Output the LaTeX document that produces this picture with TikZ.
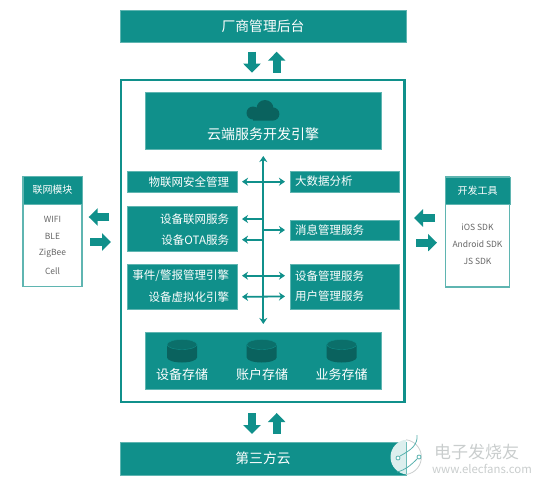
\documentclass[tikz,border=0pt]{standalone}
\usepackage{fontspec}
\setmainfont{Noto Sans CJK SC}
\usepackage{tikz}
\usetikzlibrary{positioning,arrows.meta}
\definecolor{cloudteal}{HTML}{10908B}
\definecolor{edgeteal}{HTML}{5FB5B1}
\definecolor{darkteal}{HTML}{0A625E}
\definecolor{topteal}{HTML}{0B6F6A}
\definecolor{listgray}{HTML}{666666}
\definecolor{markgray}{HTML}{C9CDCD}
\definecolor{markpale}{HTML}{DCEFEE}
\begin{document}
\begin{tikzpicture}[
    x=1pt, y=-1pt,
    every node/.style={inner sep=0pt, outer sep=0pt, text=white},
    block/.style={draw=edgeteal, line width=0.5pt, fill=cloudteal},
    panel/.style={draw=edgeteal, line width=1.2pt, fill=white},
    cell/.style={font=\fontsize{11.5}{13}\selectfont},
    rowl/.style={cell, anchor=east},
    rowr/.style={cell, anchor=west},
    item/.style={font=\fontsize{8.5}{10}\selectfont, text=listgray},
    store/.style={font=\fontsize{13}{15}\selectfont},
    drum/.pic={
        \fill[darkteal] (-15,-6.5) -- (-15,6.5) arc (180:360:15pt and 5pt) -- (15,-6.5) -- cycle;
        \fill[topteal, draw=cloudteal, line width=0.4pt] (0,-6.5) ellipse (15pt and 5pt);
    },
    bigarrow/.style={draw=cloudteal, line width=8pt, -{Triangle[width=17pt,length=9pt]}},
    busarrow/.style={draw=cloudteal, line width=1.8pt, {Stealth[length=6pt,width=8pt]}-{Stealth[length=6pt,width=8pt]}},
    busout/.style={draw=cloudteal, line width=1.8pt, -{Stealth[length=6pt,width=8pt]}}
]
\useasboundingbox (0,0) rectangle (539,485);

% top and bottom bars
\node[block, minimum width=286pt, minimum height=32.5pt, font=\fontsize{13.8}{15}\selectfont] (vendor) at (263,26) {厂商管理后台};
\node[block, minimum width=286pt, minimum height=33pt, font=\fontsize{13.8}{15}\selectfont] (third) at (263,458.5) {第三方云};

% main frame
\node[draw=cloudteal, line width=2.5pt, fill=white, minimum width=283.5pt, minimum height=322pt] (frame) at (262.7,241) {};

% engine and storage
\node[block, minimum width=236pt, minimum height=57pt] (engine) at (263,120.5) {};
\node[font=\fontsize{14}{16}\selectfont] (enginetxt) at (263,134.5) {云端服务开发引擎};
\fill[darkteal] (253,113) circle (6.5pt) (265,108.5) circle (8.5pt) (272.8,114) circle (6.6pt) (253,112) rectangle (273,120.6);

\node[block, minimum width=236pt, minimum height=57.5pt] (storage) at (263,360.5) {};
\pic (drumdev) at (182,351) {drum};
\pic (drumacc) at (261.7,351) {drum};
\pic (drumbiz) at (341.7,351) {drum};
\node[store] (devstore) at (182,374.5) {设备存储};
\node[store] (accstore) at (262,374.5) {账户存储};
\node[store] (bizstore) at (341.7,374.5) {业务存储};

% left column
\node[block, minimum width=110pt, minimum height=20.5pt] (security) at (182.5,181.7) {};
\node[rowl] (securitytxt) at (229,181.7) {物联网安全管理};
\node[block, minimum width=110pt, minimum height=44.5pt] (devbox) at (182.5,228.7) {};
\node[rowl] (devnet) at (229,219) {设备联网服务};
\node[rowl, below=10pt of devnet.south east, anchor=north east] (devota) {设备OTA服务};
\node[block, minimum width=110pt, minimum height=45pt] (eventbox) at (182.5,286.5) {};
\node[rowl] (event) at (229,275.7) {事件/警报管理引擎};
\node[rowl, below=10pt of event.south east, anchor=north east] (virtual) {设备虚拟化引擎};

% right column
\node[block, minimum width=109pt, minimum height=21.5pt] (bigdata) at (344.5,181.5) {};
\node[rowr] (bigdatatxt) at (295,181.5) {大数据分析};
\node[block, minimum width=109pt, minimum height=20.5pt] (msgbox) at (344.5,230) {};
\node[rowr] (msg) at (295,230) {消息管理服务};
\node[block, minimum width=109pt, minimum height=45pt] (mgmtbox) at (344.5,286.5) {};
\node[rowr] (devmgmt) at (295,275.7) {设备管理服务};
\node[rowr, below=10pt of devmgmt.south west, anchor=north west] (usermgmt) {用户管理服务};

% bus
\coordinate (bustop) at (263.3,156);
\coordinate (busbot) at (263.3,324);
\draw[busarrow] (bustop) -- (busbot);
\draw[busarrow] ([xshift=13pt]securitytxt.east) -- ([xshift=-5pt]bigdata.west |- securitytxt);
\draw[busout] (bustop |- devnet) -- ([xshift=13pt]devnet.east);
\draw[busout] (bustop |- devota) -- ([xshift=13pt]devnet.east |- devota);
\draw[busout] (bustop |- msg) -- ([xshift=-10pt]msg.west);
\draw[busarrow] ([xshift=13pt]event.east) -- ([xshift=-10pt]devmgmt.west);
\draw[busarrow] ([xshift=13pt]virtual.east) -- ([xshift=-10pt]usermgmt.west);

% side panels
\node[panel, minimum width=59pt, minimum height=110.5pt] (modules) at (52.5,231.5) {};
\node[block, minimum width=59.5pt, minimum height=28pt, font=\fontsize{10}{12}\selectfont] (moduleshead) at (52.5,190) {联网模块};
\node[item] (wifi) at (52.5,219) {WIFI};
\node[item] (ble) at (52.5,236.5) {BLE};
\node[item] (zigbee) at (52.5,253) {ZigBee};
\node[item] (cell) at (52.5,271) {Cell};

\node[panel, minimum width=64.5pt, minimum height=110pt] (tools) at (477.5,232) {};
\node[block, minimum width=65pt, minimum height=27.5pt, font=\fontsize{10}{12}\selectfont] (toolshead) at (477.5,190.5) {开发工具};
\node[item] (ios) at (477.5,227) {iOS SDK};
\node[item] (android) at (477.5,244.5) {Android SDK};
\node[item] (jssdk) at (477.5,261) {JS SDK};

% block arrows
\coordinate (vendordown) at (252,51.7);
\coordinate (vendorup) at (276.7,72.7);
\draw[bigarrow] (vendordown) -- (252,72.7);
\draw[bigarrow] (vendorup) -- (276.7,51.7);
\coordinate (thirddown) at (252,413);
\coordinate (thirdup) at (276.7,434);
\draw[bigarrow] (thirddown) -- (252,434);
\draw[bigarrow] (thirdup) -- (276.7,413);
\coordinate (modulesin) at (109.3,217);
\coordinate (modulesout) at (90,242);
\draw[bigarrow] (modulesin) -- (88.7,217);
\draw[bigarrow] (modulesout) -- (111,242);
\coordinate (toolsout) at (435,218);
\coordinate (toolsin) at (416,242.7);
\draw[bigarrow] (toolsout) -- (414,218);
\draw[bigarrow] (toolsin) -- (437,242.7);

% site mark
\begin{scope}
\clip (390,440) rectangle (406,476);
\fill[markpale] (408,457) circle (17.5pt);
\end{scope}
\draw[markgray, line width=0.8pt] (406,474.5) arc (-83:83:17.5pt);
\draw[cloudteal!70!white, line width=0.8pt] (400,456) .. controls (411,450) and (418,445) .. (417,435);
\draw[cloudteal!70!white, line width=0.8pt] (417,459) .. controls (410,466) and (405,470) .. (397,472);
\draw[cloudteal!70!white, line width=0.8pt, fill=white] (398,458) circle (2pt) (419,457) circle (2pt);
\node[font=\fontsize{17}{19}\selectfont, text=markgray] (marktitle) at (476.5,452) {电子发烧友};
\node[font=\fontsize{11.4}{13}\selectfont, text=markgray] (markurl) at (482,469) {www.elecfans.com};
\end{tikzpicture}
\end{document}
